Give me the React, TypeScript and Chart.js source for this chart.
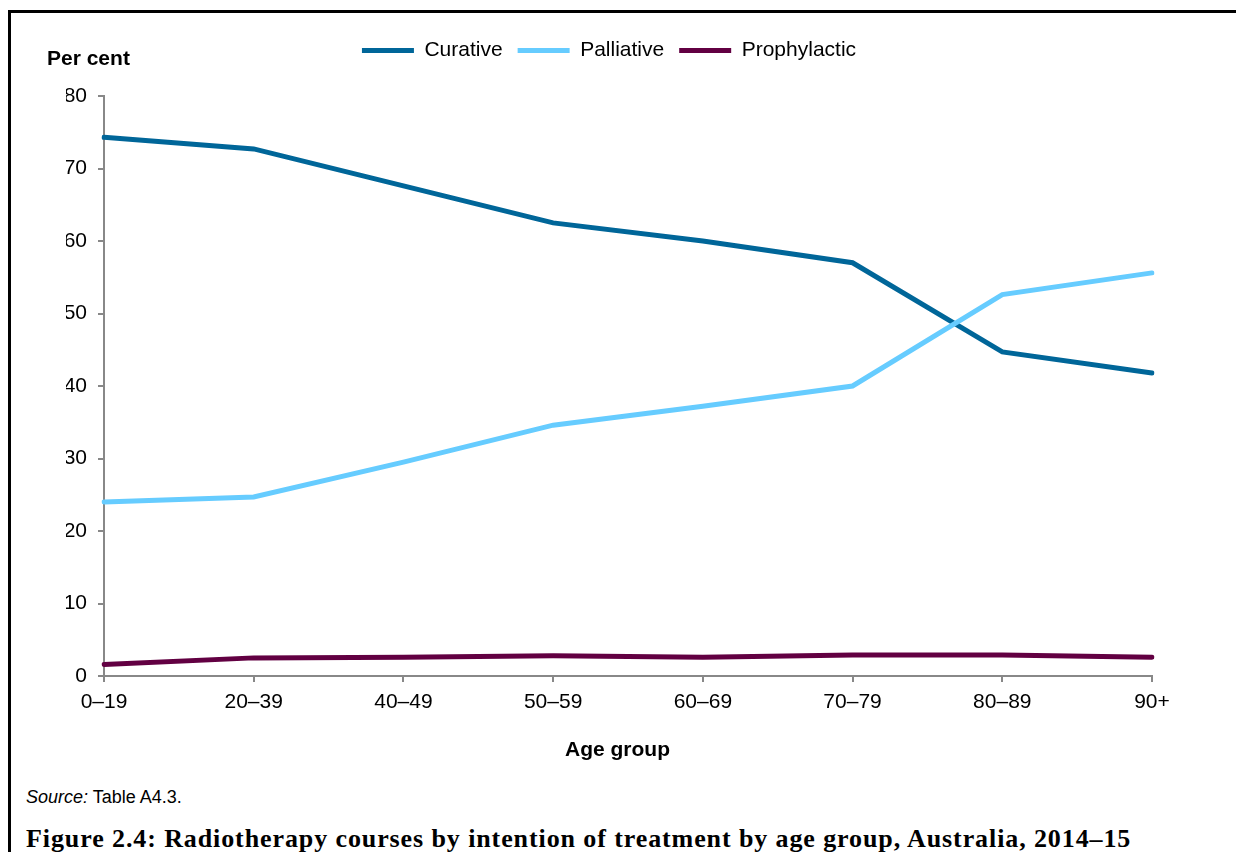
import React, { useEffect, useRef } from "react";
import { Chart, registerables } from "chart.js";

Chart.register(...registerables);

const ageGroups = ["0–19", "20–39", "40–49", "50–59", "60–69", "70–79", "80–89", "90+"];
const curative = [74.3, 72.7, 67.6, 62.5, 60.0, 57.0, 44.7, 41.8];
const palliative = [24.0, 24.7, 29.5, 34.6, 37.2, 40.0, 52.6, 55.6];
const prophylactic = [1.6, 2.5, 2.6, 2.8, 2.6, 2.9, 2.9, 2.6];
const yTicks = [0, 10, 20, 30, 40, 50, 60, 70, 80];

const SANS = '"Liberation Sans", Arial, sans-serif';

const legendSpacer = {
  id: "legendSpacer",
  beforeInit(chart: any) {
    const legend = chart.legend;
    if (!legend) return;
    const orig = legend.fit;
    legend.fit = function () {
      orig.call(this);
      this.height += 25;
    };
  },
};

export default function App() {
  const ref = useRef<HTMLCanvasElement | null>(null);

  useEffect(() => {
    if (!ref.current) return;
    Chart.defaults.font.family = SANS;
    const chart = new Chart(ref.current, {
      type: "line",
      data: {
        labels: ageGroups,
        datasets: [
          {
            label: "Curative",
            data: curative,
            borderColor: "#006699",
            backgroundColor: "#006699",
            borderWidth: 5,
            borderCapStyle: "round",
            pointRadius: 0,
            tension: 0,
            order: 2,
          },
          {
            label: "Palliative",
            data: palliative,
            borderColor: "#66CCFF",
            backgroundColor: "#66CCFF",
            borderWidth: 5,
            borderCapStyle: "round",
            pointRadius: 0,
            tension: 0,
            order: 1,
          },
          {
            label: "Prophylactic",
            data: prophylactic,
            borderColor: "#620042",
            backgroundColor: "#620042",
            borderWidth: 5,
            borderCapStyle: "round",
            pointRadius: 0,
            tension: 0,
            order: 3,
          },
        ],
      },
      options: {
        responsive: false,
        animation: false,
        layout: { padding: { left: 66, right: 84, top: 25, bottom: 0 } },
        plugins: {
          tooltip: { enabled: false },
          legend: {
            position: "top",
            labels: {
              usePointStyle: true,
              pointStyle: "line",
              pointStyleWidth: 52,
              padding: 15,
              color: "#000",
              font: { size: 21, family: SANS },
              sort: (a: any, b: any) => a.datasetIndex - b.datasetIndex,
            },
          },
        },
        scales: {
          x: {
            type: "category",
            offset: false,
            border: { color: "#888", width: 2 },
            grid: { drawOnChartArea: false, drawTicks: true, tickLength: 6, color: "#888", lineWidth: 2 },
            ticks: { color: "#000", font: { size: 21, family: SANS }, padding: 8, maxRotation: 0, autoSkip: false },
            afterFit: (s: any) => {
              s.height = 104;
            },
          },
          y: {
            min: 0,
            max: 80,
            border: { color: "#888", width: 2 },
            grid: { drawOnChartArea: false, drawTicks: true, tickLength: 6, color: "#888", lineWidth: 2 },
            ticks: {
              color: "#000",
              font: { size: 21, family: SANS },
              padding: 11,
              stepSize: 10,
            },
            afterBuildTicks: (s: any) => {
              s.ticks = yTicks.map((v) => ({ value: v }));
            },
            afterFit: (s: any) => {
              s.width = 38;
            },
          },
        },
      },
      plugins: [legendSpacer],
    });
    return () => chart.destroy();
  }, []);

  return (
    <div>
      <div
        style={{
          position: "fixed",
          left: 8,
          top: 10,
          right: 0,
          bottom: 0,
          borderTop: "3px solid #000",
          borderLeft: "3px solid #000",
          background: "#fff",
        }}
      />
      <canvas
        ref={ref}
        width={1236}
        height={780}
        style={{ position: "fixed", left: 0, top: 0, width: 1236, height: 780 }}
      />
      <div
        style={{
          position: "fixed",
          left: 47,
          top: 47,
          font: `bold 21px ${SANS}`,
          lineHeight: "21px",
          color: "#000",
          whiteSpace: "nowrap",
        }}
      >
        Per cent
      </div>
      <div
        style={{
          position: "fixed",
          left: 565,
          top: 738,
          font: `bold 21px ${SANS}`,
          lineHeight: "21px",
          color: "#000",
          whiteSpace: "nowrap",
        }}
      >
        Age group
      </div>
      <div
        style={{
          position: "fixed",
          left: 26,
          top: 788,
          font: `18px ${SANS}`,
          lineHeight: "18px",
          color: "#000",
          whiteSpace: "nowrap",
        }}
      >
        <i>Source:</i> Table A4.3.
      </div>
      <div
        style={{
          position: "fixed",
          left: 26,
          top: 826,
          font: `bold 26px "Liberation Serif", "Times New Roman", serif`,
          lineHeight: "26px",
          letterSpacing: "0.9px",
          color: "#000",
          whiteSpace: "nowrap",
        }}
      >
        Figure 2.4: Radiotherapy courses by intention of treatment by age group, Australia, 2014–15
      </div>
    </div>
  );
}
